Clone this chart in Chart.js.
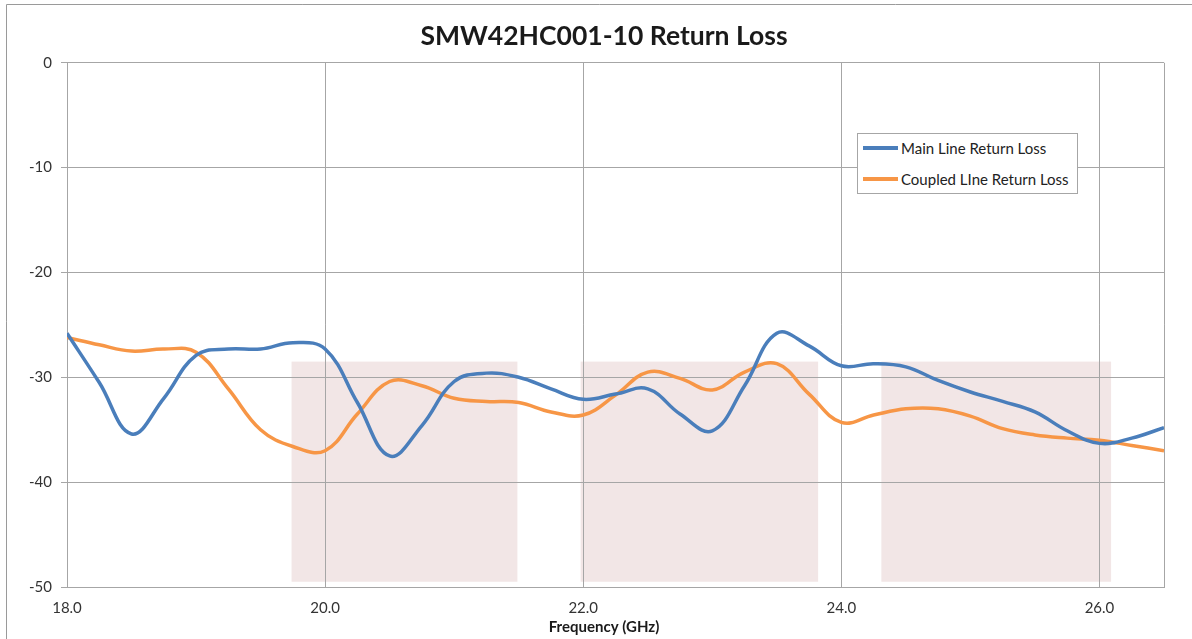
<!DOCTYPE html>
<html>
<head>
<meta charset="utf-8">
<title>SMW42HC001-10 Return Loss</title>
<script src="https://cdn.jsdelivr.net/npm/chart.js@4.4.0/dist/chart.umd.min.js"></script>
<style>
  html, body { margin: 0; padding: 0; background: #fff; }
  #wrap { position: relative; width: 1192px; height: 639px; overflow: hidden; }
  #legend {
    position: absolute; left: 857px; top: 133px; width: 221px; height: 61px;
    border: 1px solid #a6a6a6; background: #fff; box-sizing: border-box;
    font: 15px Lato, sans-serif; color: #222;
  }
  .item { position: absolute; left: 5px; display: flex; align-items: center; height: 18px; }
  .swatch { width: 35px; height: 4px; margin-right: 3px; }
</style>
</head>
<body>
<div id="wrap">
  <canvas id="rlChart" width="1192" height="639"></canvas>
  <div id="legend"></div>
</div>
<script>
// frequency points (GHz), 0.25 GHz apart
const freqGHz = [18.0, 18.25, 18.5, 18.75, 19.0, 19.25, 19.5, 19.75, 20.0, 20.25, 20.5, 20.75,
                 21.0, 21.25, 21.5, 21.75, 22.0, 22.25, 22.5, 22.75, 23.0, 23.25, 23.5, 23.75,
                 24.0, 24.25, 24.5, 24.75, 25.0, 25.25, 25.5, 25.75, 26.0, 26.25, 26.5];

const mainLineRL = [-25.8, -30.5, -35.4, -32.0, -27.9, -27.3, -27.3, -26.7, -27.3, -32.4, -37.5, -34.6,
                    -30.4, -29.6, -30.0, -31.1, -32.1, -31.6, -31.1, -33.5, -35.1, -30.8, -25.8, -27.0,
                    -28.9, -28.7, -29.0, -30.3, -31.4, -32.3, -33.3, -35.1, -36.3, -35.8, -34.8];

const coupledLineRL = [-26.2, -26.9, -27.5, -27.3, -27.6, -31.1, -35.0, -36.6, -37.0, -33.5, -30.4, -30.8,
                       -32.0, -32.3, -32.4, -33.3, -33.6, -31.7, -29.5, -30.1, -31.2, -29.5, -28.7, -31.6,
                       -34.3, -33.6, -33.0, -33.0, -33.7, -34.9, -35.5, -35.8, -36.0, -36.5, -37.0];

// shaded spec bands [start GHz, end GHz] and their dB span
const bandRanges = [[19.74, 21.49], [21.98, 23.82], [24.31, 26.09]];
const bandSpanDb = [-28.5, -49.5];

const xTickValues = [18, 20, 22, 24, 26, 26.5];
const yTickValues = [0, -10, -20, -30, -40, -50];

const gridColor = '#a6a6a6';
const textColor = '#333';

// background bands + outer frame, drawn under the grid
const bandsPlugin = {
    id: 'bands',
    afterLayout(chart) {
        // the original centres its titles on the whole frame, not on the plot
        chart.boxes.forEach(b => {
            if (!(b instanceof Chart.Scale) && b.options && b.options.text) {
                b.left += 44;
            }
        });
    },
    beforeDraw(chart) {
        const ctx = chart.ctx;
        const x = chart.scales.x;
        const y = chart.scales.y;
        ctx.save();
        ctx.strokeStyle = '#9a9a9a';
        ctx.lineWidth = 1;
        ctx.beginPath();
        ctx.moveTo(6.5, 639);
        ctx.lineTo(6.5, 4.5);
        ctx.lineTo(1192, 4.5);
        ctx.stroke();

        ctx.fillStyle = '#f2e6e6';
        const top = y.getPixelForValue(bandSpanDb[0]);
        const bottom = y.getPixelForValue(bandSpanDb[1]);
        bandRanges.forEach(r => {
            const left = x.getPixelForValue(r[0]);
            const right = x.getPixelForValue(r[1]);
            ctx.fillRect(left, top, right - left, bottom - top);
        });
        ctx.restore();
    }
};

const chart = new Chart(document.getElementById('rlChart'), {
    type: 'line',
    data: {
        datasets: [{
            label: 'Main Line Return Loss',
            data: freqGHz.map((f, i) => ({ x: f, y: mainLineRL[i] })),
            borderColor: '#4a7ebb',
            borderWidth: 3.5,
            pointRadius: 0,
            tension: 0.4
        }, {
            label: 'Coupled LIne Return Loss',
            data: freqGHz.map((f, i) => ({ x: f, y: coupledLineRL[i] })),
            borderColor: '#f79646',
            borderWidth: 3.5,
            pointRadius: 0,
            tension: 0.4
        }]
    },
    options: {
        responsive: false,
        animation: false,
        layout: { padding: { left: 0, right: 28, top: 0, bottom: 0 } },
        plugins: {
            legend: { display: false },
            tooltip: { enabled: false },
            title: {
                display: true,
                text: 'SMW42HC001-10 Return Loss',
                color: '#1a1a1a',
                font: { family: 'Lato', size: 26.5, weight: 'bold' },
                padding: { top: 21, bottom: 10 }
            },
            // x axis title, as a bottom subtitle so it centres on the whole chart
            subtitle: {
                display: true,
                position: 'bottom',
                text: 'Frequency (GHz)',
                color: '#1a1a1a',
                font: { family: 'Lato', size: 15, weight: 'bold' },
                padding: { top: 0, bottom: 3 }
            }
        },
        scales: {
            x: {
                type: 'linear',
                min: 18,
                max: 26.5,
                afterBuildTicks: s => { s.ticks = xTickValues.map(v => ({ value: v })); },
                afterFit: s => { s.height = 31; },
                grid: { color: gridColor, drawTicks: false },
                border: { color: gridColor },
                ticks: {
                    color: textColor,
                    padding: 12,
                    font: { family: 'Lato', size: 15 },
                    maxRotation: 0,
                    callback: v => (v % 2 === 0 ? v.toFixed(1) : '')
                }
            },
            y: {
                min: -50,
                max: 0,
                afterBuildTicks: s => { s.ticks = yTickValues.map(v => ({ value: v })); },
                afterFit: s => { s.width = 67; },
                grid: { color: gridColor, tickLength: 6 },
                border: { color: gridColor },
                ticks: {
                    color: textColor,
                    padding: 9,
                    font: { family: 'Lato', size: 15 }
                }
            }
        }
    },
    plugins: [bandsPlugin]
});

// legend as html, built from the chart datasets
const legendEl = document.getElementById('legend');
chart.data.datasets.forEach((ds, i) => {
    const item = document.createElement('div');
    item.className = 'item';
    item.style.top = (5 + i * 31) + 'px';
    const sw = document.createElement('span');
    sw.className = 'swatch';
    sw.style.background = ds.borderColor;
    const txt = document.createElement('span');
    txt.textContent = ds.label;
    item.appendChild(sw);
    item.appendChild(txt);
    legendEl.appendChild(item);
});
</script>
</body>
</html>
